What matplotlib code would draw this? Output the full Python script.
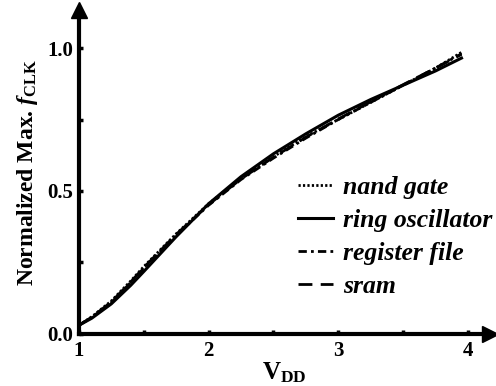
import matplotlib
matplotlib.use("Agg")
import matplotlib.pyplot as plt
from matplotlib.lines import Line2D

# Supply voltage (V) and normalized max clock frequency for each circuit
vdd = [1.0, 1.1, 1.25, 1.4, 1.5, 1.75, 2.0, 2.25, 2.5, 2.75, 3.0, 3.25, 3.5, 3.75, 3.95]
nand_gate = [0.03, 0.06, 0.115, 0.185, 0.235, 0.35, 0.455, 0.545, 0.62, 0.69, 0.75, 0.81, 0.87, 0.93, 0.985]
ring_osc = [0.03, 0.055, 0.105, 0.17, 0.218, 0.34, 0.455, 0.55, 0.63, 0.70, 0.765, 0.82, 0.87, 0.92, 0.965]
reg_file = [0.03, 0.058, 0.11, 0.18, 0.23, 0.345, 0.45, 0.54, 0.615, 0.685, 0.75, 0.81, 0.87, 0.93, 0.98]
sram = [0.03, 0.059, 0.112, 0.182, 0.232, 0.348, 0.452, 0.542, 0.618, 0.688, 0.752, 0.812, 0.872, 0.93, 0.978]

labels = ["nand gate", "ring oscillator", "register file", "sram"]

plt.rcParams['font.family'] = ['Liberation Serif', 'DejaVu Serif']
plt.rcParams['mathtext.fontset'] = 'custom'
plt.rcParams['mathtext.rm'] = 'Liberation Serif:bold'
plt.rcParams['mathtext.it'] = 'Liberation Serif:bold:italic'
plt.rcParams['mathtext.bf'] = 'Liberation Serif:bold'

fig = plt.figure(figsize=(4.96, 3.86), dpi=100)
ax = fig.add_axes([0.159, 0.135, 0.829, 0.839])

ax.plot(vdd, nand_gate, color='black', lw=2.0, ls=(0, (0.8, 0.8)))
ax.plot(vdd, ring_osc, color='black', lw=2.2, ls='-')
ax.plot(vdd, reg_file, color='black', lw=2.0, ls=(0, (3, 1.5, 1, 1.5)))
ax.plot(vdd, sram, color='black', lw=2.0, ls=(0, (5, 3)))

ax.set_xlim(1, 4.17)
ax.set_ylim(0, 1.133)

for s in ['top', 'right']:
    ax.spines[s].set_visible(False)
for s in ['left', 'bottom']:
    ax.spines[s].set_linewidth(3)

ax.plot(1, 0, '>', color='black', markersize=12, transform=ax.transAxes, clip_on=False)
ax.plot(0, 1, '^', color='black', markersize=12, transform=ax.transAxes, clip_on=False)

ax.set_xticks([1, 2, 3, 4])
ax.set_xticklabels(['1', '2', '3', '4'])
ax.set_xticks([1.5, 2.5, 3.5], minor=True)
ax.set_yticks([0.0, 0.5, 1.0])
ax.set_yticklabels(['0.0', '0.5', '1.0'])
ax.set_yticks([0.25, 0.75], minor=True)
ax.tick_params(which='both', direction='in', width=2.5, length=3, labelsize=15)
ax.tick_params(axis='x', pad=5)
ax.tick_params(axis='y', pad=4)
for t in ax.get_xticklabels() + ax.get_yticklabels():
    t.set_fontweight('bold')

ax.set_xlabel(r'$\mathbf{V_{DD}}$', fontsize=18, labelpad=0)
ax.set_ylabel(r'Normalized Max. $f_{\mathbf{CLK}}$', fontsize=17, fontweight='bold', labelpad=5)

handles = [
    Line2D([], [], color='black', lw=2.0, ls=(0, (0.8, 0.8))),
    Line2D([], [], color='black', lw=2.2, ls='-'),
    Line2D([], [], color='black', lw=2.0, ls=(0, (3, 1.5, 1, 1.5))),
    Line2D([], [], color='black', lw=2.0, ls=(0, (5, 3))),
]
fig.legend(handles, labels, loc='upper left', bbox_to_anchor=(0.601, 0.545), frameon=False,
           prop={'family': 'Liberation Serif', 'weight': 'bold', 'style': 'italic', 'size': 18.5},
           handlelength=1.35, handletextpad=0.4, labelspacing=0.4, borderpad=0, borderaxespad=0)

fig.savefig('out.png', dpi=100)
